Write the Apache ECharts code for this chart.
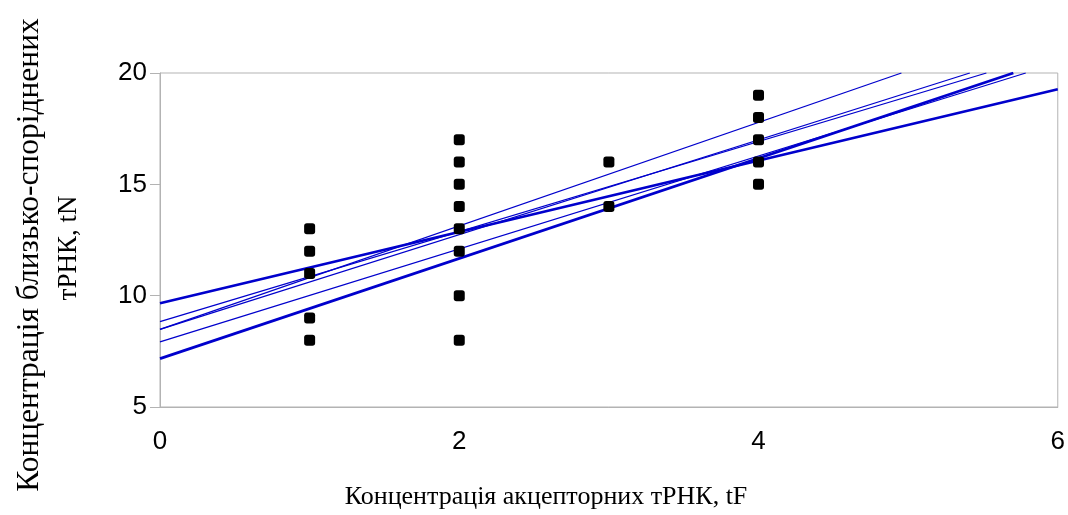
<!DOCTYPE html>
<html>
<head>
<meta charset="utf-8">
<script src="https://cdn.jsdelivr.net/npm/echarts@6/dist/echarts.min.js"></script>
<style>
  html, body { margin: 0; padding: 0; background: #fff; }
  #chart { width: 1068px; height: 515px; }
</style>
</head>
<body>
<div id="chart"></div>
<script>
// Observations: acceptor tRNA (tF) vs closely related tRNA (tN)
const obsTF = [1, 1, 1, 1, 1,
               2, 2, 2, 2, 2, 2, 2, 2,
               3, 3,
               4, 4, 4, 4, 4];
const obsTN = [13, 12, 11, 9, 8,
               17, 16, 15, 14, 13, 12, 10, 8,
               16, 14,
               19, 18, 17, 16, 15];

// Fitted regression lines: start at tF = 0, end where they leave the plot
const fitStartTN = [9.66, 7.17, 8.49, 8.49, 8.83, 7.93];
const fitEndTF   = [6, 5.703, 4.955, 5.412, 5.523, 5.786];
const fitEndTN   = [19.27, 20, 20, 20, 20, 20];
const fitBold    = [true, true, false, false, false, false];

const xTicks = [0, 2, 4, 6];
const yTicks = [5, 10, 15, 20];

const xTitle = 'Концентрація акцепторних тРНК, tF';
const yTitle1 = 'Концентрація близько-споріднених';
const yTitle2 = 'тРНК, tN';

const chart = echarts.init(document.getElementById('chart'), null, { renderer: 'canvas' });

const lineSeries = fitStartTN.map((b, i) => ({
  type: 'line',
  data: [[0, b], [fitEndTF[i], fitEndTN[i]]],
  showSymbol: false,
  symbol: 'none',
  silent: true,
  lineStyle: { color: '#0000cc', width: fitBold[i] ? 2.8 : 1.3 },
  z: 3
}));

const axisGray = '#b3b3b3';
const labelFont = { fontFamily: 'Liberation Sans', fontSize: 26, color: '#000' };

chart.setOption({
  animation: false,
  grid: {
    left: 160, right: 9, top: 73, bottom: 108,
    show: true, borderColor: axisGray, borderWidth: 1
  },
  xAxis: {
    type: 'value', min: xTicks[0], max: xTicks[xTicks.length - 1], interval: 2,
    axisLine: { show: true, lineStyle: { color: axisGray } },
    axisTick: { show: false },
    splitLine: { show: false },
    axisLabel: Object.assign({ margin: 22 }, labelFont)
  },
  yAxis: {
    type: 'value', min: yTicks[0], max: yTicks[yTicks.length - 1], interval: 5,
    axisLine: { show: true, lineStyle: { color: axisGray } },
    axisTick: { show: true, inside: false, length: 10, lineStyle: { color: axisGray } },
    splitLine: { show: false },
    axisLabel: Object.assign({ margin: 13 }, labelFont)
  },
  graphic: [
    {
      type: 'text', x: 546, y: 497,
      style: {
        text: xTitle, fontFamily: 'Liberation Serif', fontSize: 26, fill: '#000',
        align: 'center', verticalAlign: 'middle'
      }
    },
    {
      type: 'text', x: 30, y: 255, rotation: Math.PI / 2,
      style: {
        text: yTitle1, fontFamily: 'Liberation Serif', fontSize: 31.5, fill: '#000',
        align: 'center', verticalAlign: 'middle'
      }
    },
    {
      type: 'text', x: 69, y: 248, rotation: Math.PI / 2,
      style: {
        text: yTitle2, fontFamily: 'Liberation Serif', fontSize: 27, fill: '#000',
        align: 'center', verticalAlign: 'middle'
      }
    }
  ],
  series: [
    {
      type: 'scatter',
      data: obsTF.map((x, i) => [x, obsTN[i]]),
      symbol: 'roundRect',
      symbolSize: 11,
      itemStyle: { color: '#000', opacity: 1 },
      z: 4
    }
  ].concat(lineSeries)
});
</script>
</body>
</html>
